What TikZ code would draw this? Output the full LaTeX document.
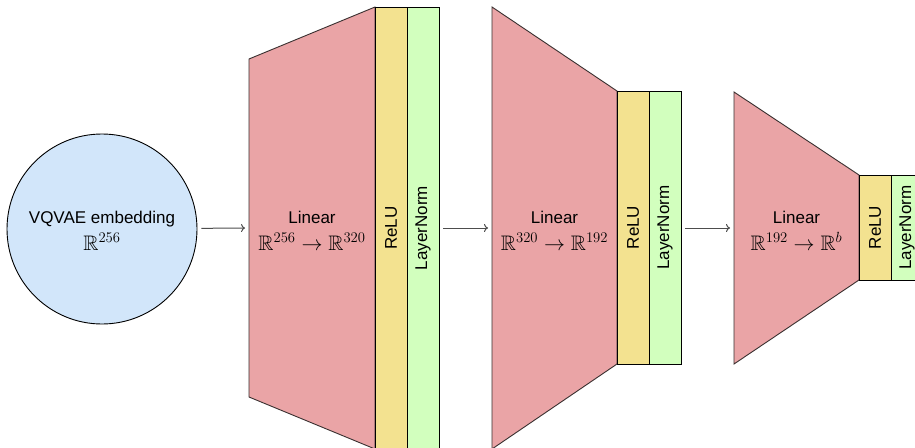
\RequirePackage{fix-cm}
\documentclass[tikz,border=0pt]{standalone}
\usepackage{amssymb}
\DeclareFontFamily{U}{msb}{}
\DeclareFontShape{U}{msb}{m}{n}{<-6> msbm5 <6-8> msbm7 <8-> msbm10}{}
\usepackage{fontspec}
\setmainfont{Liberation Sans}
\usetikzlibrary{arrows.meta}
\definecolor{linfill}{HTML}{EAA4A6}
\definecolor{relufill}{HTML}{F3E290}
\definecolor{lnfill}{HTML}{D2FFBE}
\definecolor{embfill}{HTML}{D2E6FA}
\definecolor{edge}{HTML}{3A3030}
\definecolor{arrcol}{HTML}{4D4D4D}
\tikzset{
  lintrap/.style={fill=linfill, draw=edge, line width=0.9pt},
  relubox/.style={fill=relufill, draw=black, line width=0.9pt, inner sep=0pt},
  lnbox/.style={fill=lnfill, draw=black, line width=0.9pt, inner sep=0pt},
  vlabel/.style={rotate=90, font=\fontsize{17}{20}\selectfont},
  wordtext/.style={anchor=base, font=\fontsize{17}{20}\selectfont, inner sep=0pt},
  mathtext/.style={anchor=base, font=\fontsize{21}{24}\selectfont, inner sep=0pt},
  arr/.style={draw=arrcol, line width=1pt, -{To[length=4pt,width=8pt]}, shorten <=4pt, shorten >=4pt}
}
\begin{document}
\begin{tikzpicture}[x=1pt,y=-1pt]
\clip (0,0) rectangle (915,447);
\fill[white] (0,0) rectangle (915,447);

% input embedding
\node[circle, fill=embfill, draw=black, line width=0.9pt, minimum size=190pt, inner sep=0pt] (emb) at (102,229) {};
\node[wordtext] (embt) at (102,223) {VQVAE embedding};
\node[mathtext] (embm) at (102,250) {$\mathbb{R}^{256}$};

% block 1
\draw[lintrap] (249,59) -- (375,7) -- (375,449) -- (249,397) -- cycle;
\coordinate (t1) at (249,228);
\node[wordtext] (lin1) at (312,223) {Linear};
\node[mathtext] (lin1m) at (312,250) {$\mathbb{R}^{256}\rightarrow\mathbb{R}^{320}$};
\node[relubox, minimum width=32pt, minimum height=442pt] (r1) at (391,228) {};
\node[lnbox, minimum width=32pt, minimum height=442pt] (n1) at (423,228) {};
\node[vlabel] (r1t) at (r1.center) {ReLU};
\node[vlabel] (n1t) at (n1.center) {LayerNorm};

% block 2
\draw[lintrap] (492,7) -- (617,91) -- (617,364) -- (492,449) -- cycle;
\coordinate (t2) at (492,228);
\node[wordtext] (lin2) at (554.5,223) {Linear};
\node[mathtext] (lin2m) at (554.5,250) {$\mathbb{R}^{320}\rightarrow\mathbb{R}^{192}$};
\node[relubox, minimum width=32pt, minimum height=273pt] (r2) at (633,227.5) {};
\node[lnbox, minimum width=32pt, minimum height=273pt] (n2) at (665,227.5) {};
\node[vlabel] (r2t) at (r2.center) {ReLU};
\node[vlabel] (n2t) at (n2.center) {LayerNorm};

% block 3
\draw[lintrap] (734,92) -- (859,175) -- (859,280) -- (734,364) -- cycle;
\coordinate (t3) at (734,228);
\node[wordtext] (lin3) at (796.5,223) {Linear};
\node[mathtext] (lin3m) at (796.5,250) {$\mathbb{R}^{192}\rightarrow\mathbb{R}^{b}$};
\node[relubox, minimum width=32pt, minimum height=105pt] (r3) at (875,227.5) {};
\node[lnbox, minimum width=32pt, minimum height=105pt] (n3) at (907,227.5) {};
\node[vlabel] (r3t) at (r3.center) {ReLU};
\node[vlabel] (n3t) at (n3.center) {LayerNorm};

% connectors
\draw[arr] (emb) -- (t1);
\draw[arr] (n1.east |- t2) -- (t2);
\draw[arr] (n2.east |- t3) -- (t3);
\end{tikzpicture}
\end{document}
